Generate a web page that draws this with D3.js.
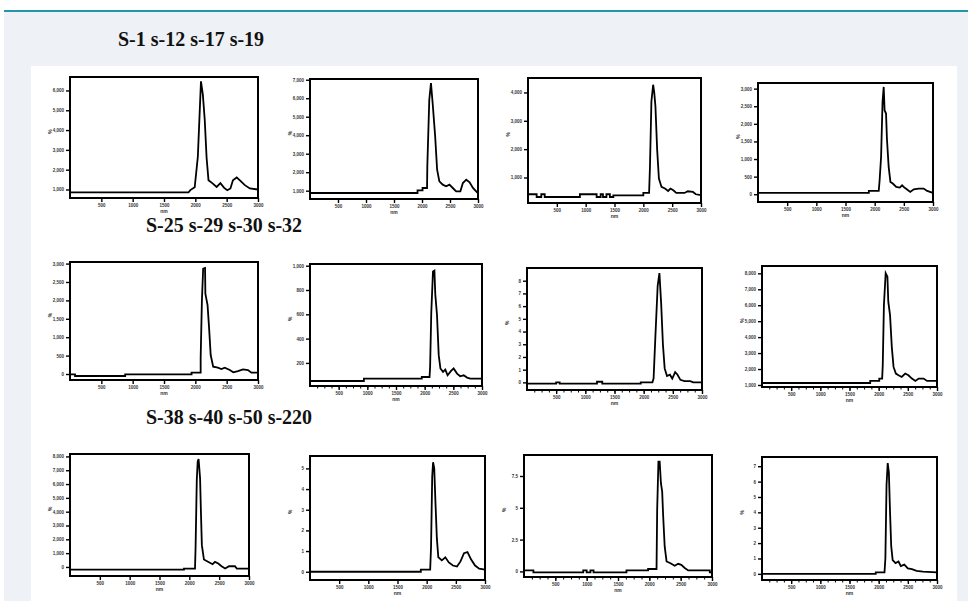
<!DOCTYPE html>
<meta charset="utf-8">
<style>
body{
	margin:0;
	background:#fff;
}
.title{
	font-family:"Liberation Serif","Times New Roman",serif;
	font-weight:bold;
	font-size:20px;
	fill:#111;
}
.frame{
	fill:none;
	stroke:#000;
	stroke-width:2px;
}
.trace{
	fill:none;
	stroke:#000;
	stroke-width:1.8px;
}
.axis path{
	display:none;
}
.axis line{
	stroke:#000;
	stroke-width:1.4px;
}
.axis text{
	font-family:"Liberation Sans",Arial,sans-serif;
	font-weight:bold;
	font-size:4.5px;
	fill:#333;
}
.minor line{
	stroke:#000;
	stroke-width:1px;
}
.alabel{
	font-family:"Liberation Sans",Arial,sans-serif;
	font-weight:bold;
	font-size:5px;
	fill:#333;
	text-anchor:middle;
}
</style>
<body>
<script src="https://cdn.jsdelivr.net/npm/d3@7"></script>
<script>

var titles = ["S-1 s-12 s-17 s-19", "S-25 s-29 s-30 s-32", "S-38 s-40 s-50 s-220"];
var xTicks = [500,1000,1500,2000,2500,3000];

// traces, [x, intensity]
var s1 = [[0,850],[1890,850],[1920,970],[1990,1110],[2040,2650],[2090,6460],[2120,5790],[2150,4520],[2180,2590],[2210,1470],[2270,1320],[2340,1130],[2400,1320],[2460,1080],[2510,960],[2560,1050],[2600,1470],[2660,1610],[2720,1430],[2790,1220],[2870,1050],[3000,1000]];
var s12 = [[0,875],[1920,875],[1920,1020],[2010,1020],[2010,1145],[2090,1145],[2095,2315],[2130,5920],[2160,6820],[2190,5740],[2235,3935],[2270,2135],[2310,1505],[2370,1325],[2430,1235],[2490,1325],[2550,1145],[2610,965],[2685,965],[2730,1415],[2790,1595],[2850,1450],[2910,1145],[2985,910],[3000,900]];
var s17 = [[0,408],[150,408],[150,312],[230,312],[230,408],[290,408],[290,312],[350,312],[900,312],[900,408],[1190,408],[1190,312],[1260,312],[1260,408],[1300,408],[1300,312],[1360,312],[1360,408],[1420,408],[1420,312],[1480,312],[1480,372],[2000,372],[2000,454],[2100,454],[2115,1376],[2140,3681],[2170,4273],[2190,3979],[2210,3504],[2240,1968],[2270,965],[2315,667],[2375,610],[2430,525],[2470,610],[2520,550],[2570,454],[2715,454],[2770,514],[2860,490],[2910,408],[3000,380]];
var s19 = [[0,37],[1900,37],[1900,94],[2070,94],[2085,398],[2110,1060],[2135,2622],[2155,3048],[2170,2386],[2195,2292],[2210,1582],[2240,776],[2270,349],[2310,304],[2370,207],[2430,190],[2470,256],[2510,190],[2550,142],[2610,65],[2670,142],[2755,162],[2840,162],[2900,94],[3000,37]];
var s25 = [[0,-9],[80,-9],[80,-54],[880,-54],[880,-9],[1940,-9],[1940,36],[2085,36],[2085,425],[2105,2005],[2125,2864],[2155,2882],[2160,2186],[2195,1870],[2220,1238],[2245,515],[2285,198],[2360,171],[2415,136],[2470,171],[2550,108],[2605,46],[2680,81],[2760,127],[2840,108],[2895,36],[3000,36]];
var s29 = [[0,51],[940,51],[940,71],[1950,71],[1950,84],[2085,84],[2095,167],[2115,608],[2145,952],[2170,960],[2185,766],[2215,594],[2245,264],[2275,154],[2320,126],[2360,145],[2400,98],[2460,134],[2505,154],[2565,112],[2620,90],[2680,98],[2740,79],[2795,71],[3000,71]];
var s30 = [[0,-0.1],[500,-0.1],[500,0],[560,0],[560,-0.1],[1200,-0.1],[1200,0.05],[1290,0.05],[1290,-0.1],[1950,-0.1],[1950,0],[2150,0],[2170,0.3],[2200,3.5],[2240,7.6],[2270,8.6],[2300,6.2],[2330,3.0],[2360,1.1],[2400,0.5],[2450,0.6],[2490,0.3],[2540,0.8],[2580,0.6],[2630,0.2],[2700,0.1],[2800,0.1],[2850,0],[3000,0]];
var s32 = [[0,1126],[1855,1126],[1855,1252],[2010,1252],[2010,1400],[2060,1400],[2070,2239],[2090,6013],[2120,8006],[2150,7792],[2165,6220],[2195,5384],[2225,3390],[2255,2132],[2295,1717],[2340,1610],[2395,1503],[2455,1717],[2510,1610],[2570,1403],[2630,1252],[2685,1403],[2770,1403],[2830,1252],[3000,1252]];
var s38 = [[0,-189],[1910,-189],[1910,-116],[2095,-116],[2105,1455],[2125,6305],[2140,7636],[2155,7811],[2180,6429],[2195,3884],[2210,1578],[2245,538],[2320,364],[2390,196],[2430,364],[2485,247],[2540,51],[2600,-116],[2665,51],[2765,51],[2795,-116],[3000,-116]];
var s40 = [[0,0],[1900,0],[1900,0.1],[2060,0.1],[2075,1.2],[2095,4.6],[2110,5.3],[2130,5.0],[2150,3.4],[2175,1.6],[2200,0.7],[2260,0.55],[2320,0.7],[2380,0.45],[2450,0.3],[2520,0.25],[2580,0.5],[2640,0.9],[2700,0.95],[2760,0.6],[2830,0.3],[2900,0.15],[3000,0.1]];
var s50 = [[0,0.08],[150,0.08],[150,-0.08],[945,-0.08],[945,0.08],[1000,0.08],[1000,-0.08],[1060,-0.08],[1060,0.08],[1110,0.08],[1110,-0.08],[1635,-0.08],[1635,0.08],[1980,0.08],[1980,0.19],[2115,0.19],[2125,4.84],[2145,8.62],[2165,8.62],[2185,6.93],[2205,6.27],[2220,4.44],[2245,1.96],[2275,0.78],[2330,0.66],[2405,0.45],[2460,0.6],[2510,0.52],[2565,0.27],[2620,0.08],[2965,0.08],[2965,-0.08],[3000,-0.08]];
var s220 = [[0,0],[1950,0],[1950,0.1],[2100,0.1],[2115,1.0],[2135,5.8],[2155,7.2],[2175,6.6],[2195,4.0],[2215,1.8],[2240,0.9],[2290,0.7],[2340,0.8],[2380,0.5],[2440,0.6],[2500,0.35],[2570,0.3],[2650,0.2],[2760,0.15],[3000,0.1]];

var series = [s1, s12, s17, s19, s25, s29, s30, s32, s38, s40, s50, s220];

var yDomains = [[570,6680],[550,7040],[100,4510],[-220,3160],[-163,3043],[10,1014],[-0.6,9],[874,8459],[-655,8175],[-0.4,5.6],[-0.44,9.15],[-0.4,7.6]];
var yTicks = [
	[1000,2000,3000,4000,5000,6000],
	[1000,2000,3000,4000,5000,6000,7000],
	[1000,2000,3000,4000],
	[0,500,1000,1500,2000,2500,3000],
	[0,500,1000,1500,2000,2500,3000],
	[200,400,600,800,1000],
	[0,1,2,3,4,5,6,7,8],
	[1000,2000,3000,4000,5000,6000,7000,8000],
	[0,1000,2000,3000,4000,5000,6000,7000,8000],
	[0,1,2,3,4,5],
	[0,2.5,5,7.5],
	[0,1,2,3,4,5,6,7]
];
var minorX = [0,0,0,0,0,1,1,1,0,0,1,1];

// layout: frame boxes [x0, y0, x1, y1]
var boxes = [[70,77,258,198],[310,79,478,199],[528,78,701,203],[758,83,933,202],
	[70,262,258,380],[310,264,482,386],[527,268,702,390],[762,266,937,387],
	[70,454,249,576],[310,456,485,580],[524,455,712,577],[762,457,937,580]];
var titlePos = [[118,46],[146,232],[146,424]];

var svg = d3.select("body").append("svg").attr("width",968).attr("height",601);

svg.append("rect").attr("x",4).attr("y",11).attr("width",964).attr("height",590).attr("fill","#eef1f5");
svg.append("rect").attr("x",4).attr("y",10).attr("width",964).attr("height",2).attr("fill","#2396a8");
svg.append("rect").attr("x",31).attr("y",66).attr("width",926).attr("height",535).attr("fill","#fff");

svg.selectAll(".title").data(titles).enter().append("text")
	.attr("class","title")
	.attr("x",(d,i)=>titlePos[i][0])
	.attr("y",(d,i)=>titlePos[i][1])
	.text(d=>d);

series.forEach(function(d,i){
	var b = boxes[i];
	var w = b[2]-b[0], h = b[3]-b[1];
	var g = svg.append("g").attr("transform","translate("+b[0]+","+b[1]+")");

	var x = d3.scaleLinear().domain([0,3000]).range([0,w]);
	var y = d3.scaleLinear().domain(yDomains[i]).range([h,0]);

	if(minorX[i]){
		g.append("g").attr("class","minor")
			.attr("transform","translate(0,"+h+")")
			.call(d3.axisBottom(x).tickValues(d3.range(125,3000,125)).tickSize(2.5).tickFormat(""))
			.select("path").remove();
	}

	g.append("g").attr("class","axis")
		.attr("transform","translate(0,"+h+")")
		.call(d3.axisBottom(x).tickValues(xTicks).tickSize(4).tickPadding(2).tickFormat(d3.format(".0f")));

	g.append("g").attr("class","axis")
		.call(d3.axisLeft(y).tickValues(yTicks[i]).tickSize(4).tickPadding(2).tickFormat(d3.format(",")));

	g.append("text").attr("class","alabel")
		.attr("x",w/2).attr("y",h+15).text("nm");
	g.append("text").attr("class","alabel")
		.attr("transform","translate(-18,"+(h*0.45)+") rotate(-90)").text("%");

	g.append("path").attr("class","trace")
		.attr("d",d3.line().x(p=>x(p[0])).y(p=>y(p[1]))(d));

	g.append("rect").attr("class","frame").attr("width",w).attr("height",h);
});

</script>
</body>
